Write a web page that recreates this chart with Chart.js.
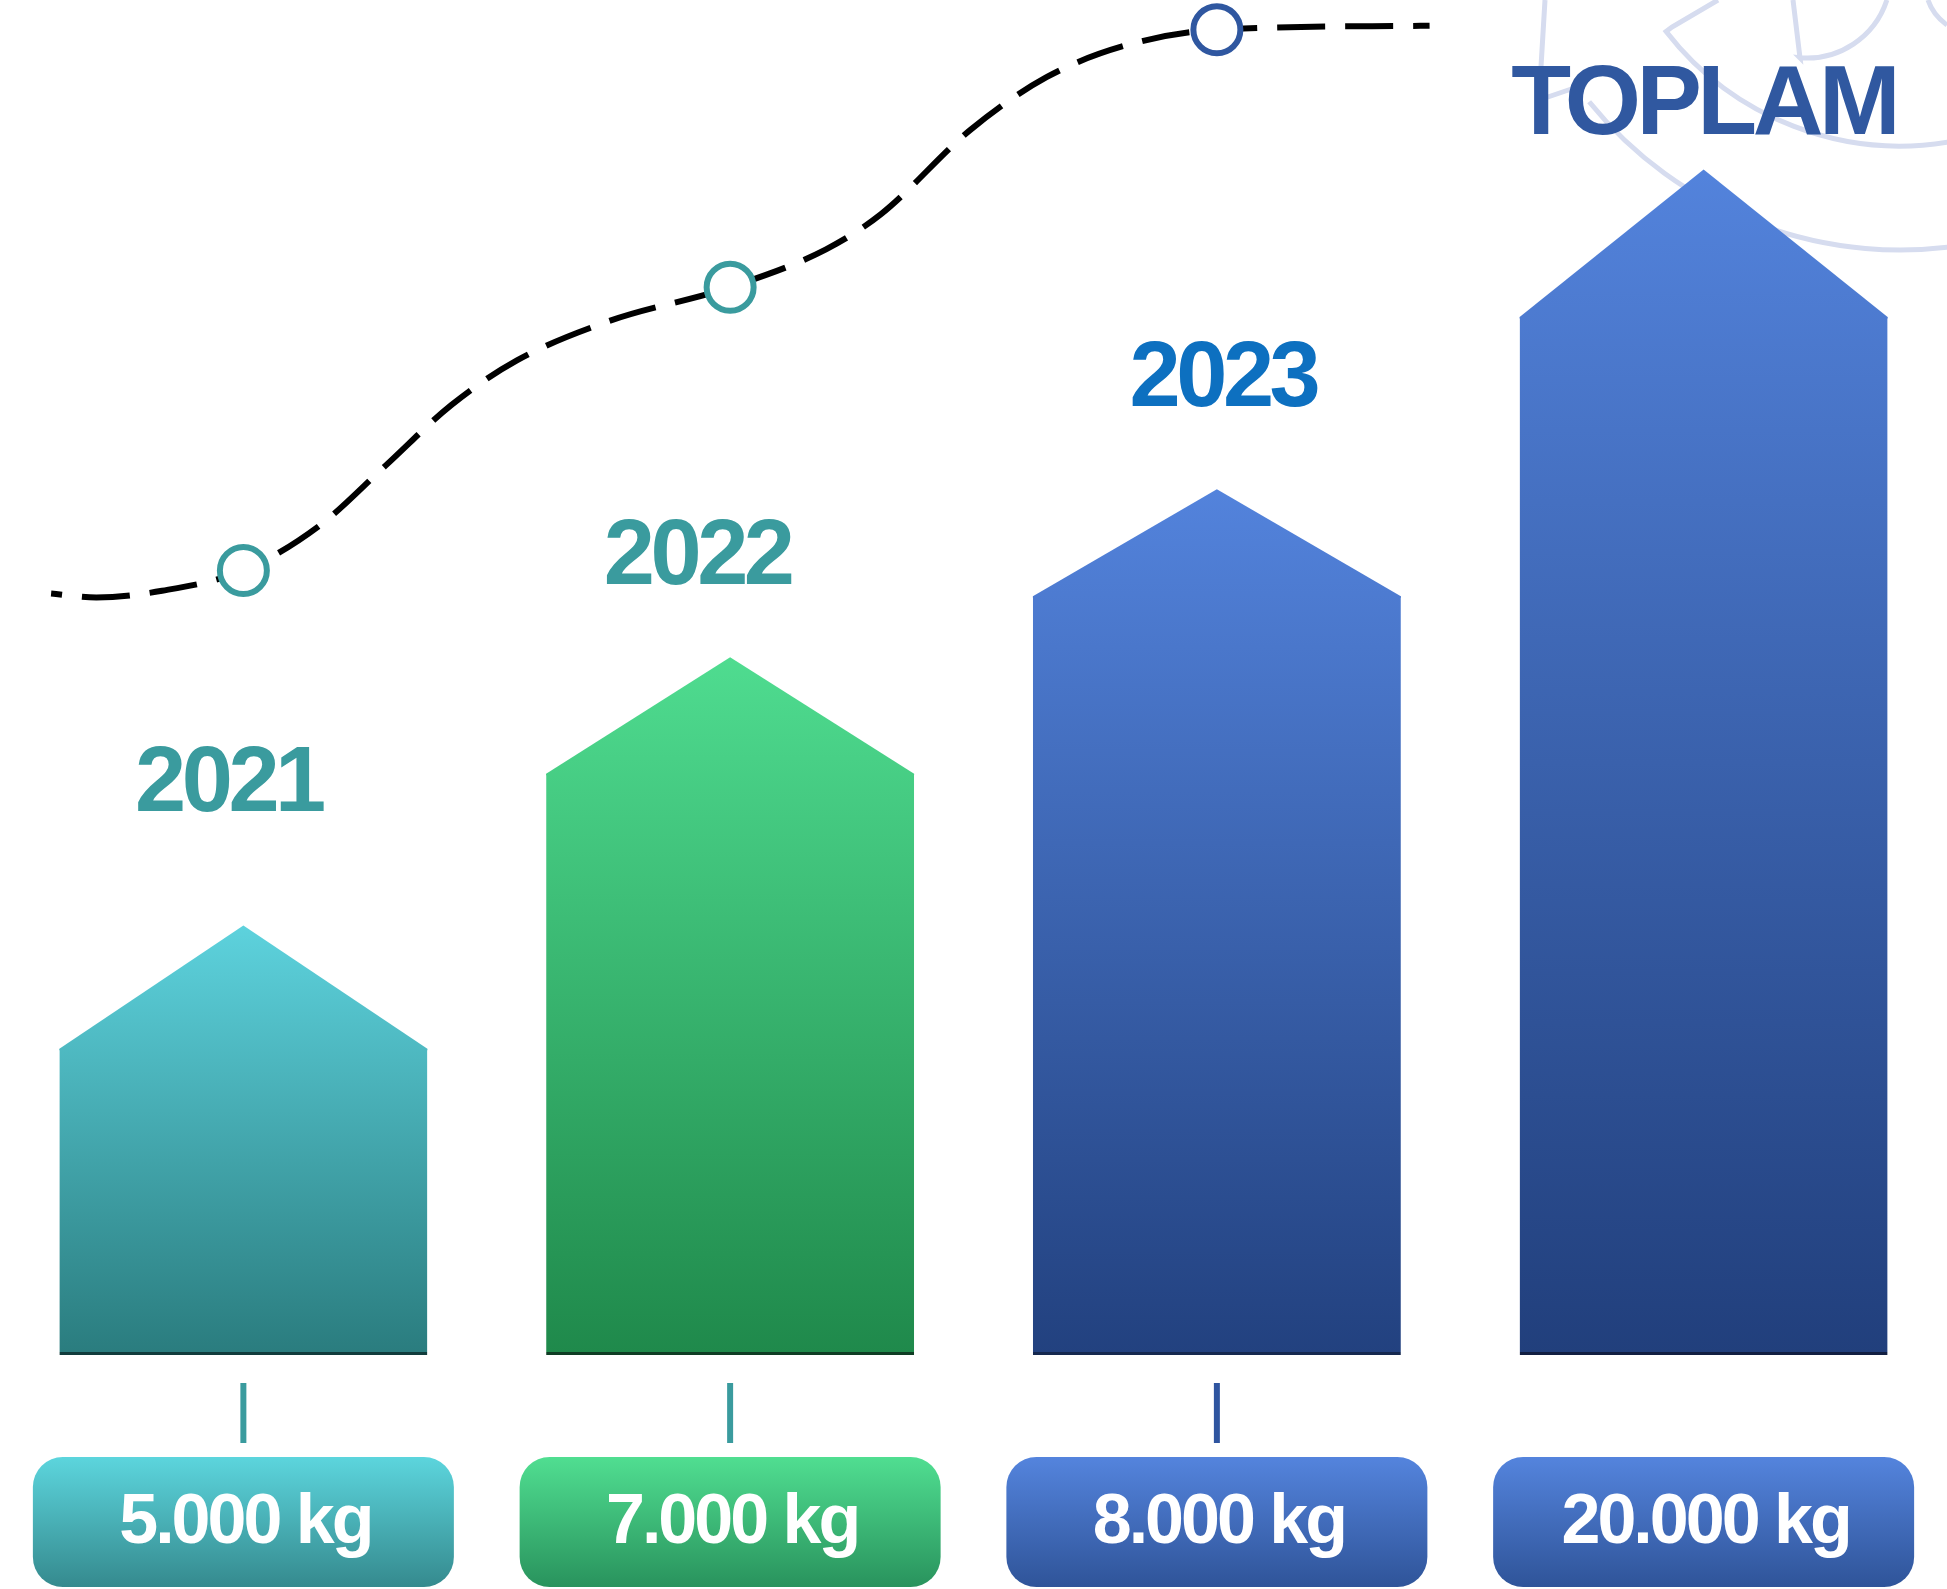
<!DOCTYPE html>
<html>
<head>
<meta charset="utf-8">
<script src="https://cdn.jsdelivr.net/npm/chart.js@4.4.1/dist/chart.umd.min.js"></script>
<style>
  html, body { margin: 0; padding: 0; background: #fff; overflow: hidden; }
  #wrap { width: 1947px; height: 1589px; position: relative; }
</style>
</head>
<body>
<div id="wrap"><canvas id="myChart"></canvas></div>
<script>
// data
const categories = ["2021", "2022", "2023", "TOPLAM"];
const amounts = [5000, 7000, 8000, 20000];
// house shapes: wall top and roof top, on a 0-100 scale
const bodyTops = [22.6, 42.9, 56.0, 76.6];
const roofTops = [31.7, 51.5, 63.9, 87.5];
// dashed trend curve (x in category units)
const trendX = [-0.395, -0.302, -0.167, 0, 0.156, 0.291, 0.427, 0.562, 0.751, 1, 1.197, 1.31, 1.493, 1.65, 1.808, 2, 2.437];
const trendY = [56.2, 55.9, 56.4, 57.9, 61.2, 65.6, 70.1, 73.4, 76.3, 78.8, 81.6, 84.2, 90.4, 94.3, 96.6, 97.8, 98.1];
const markerY = [57.9, 78.8, 97.8];

const topColors = ["#5dd2dd", "#4fdc90", "#5383dc", "#5383dc"];
const bottomColors = ["#2a7c7e", "#1f894b", "#22417f", "#213f7c"];
const edgeColors = ["#113c3c", "#0f3d24", "#15284f", "#121f42"];
const pillTop = ["#5cd5dd", "#50de91", "#5484dd", "#5484dd"];
const pillBottom = ["#358a8e", "#29935d", "#2f5499", "#2f5499"];
const labelColors = ["#3a9b9e", "#3a9b9e", "#0d70c0", "#3058a0"];
const tickColors = ["#3a9b9e", "#3a9b9e", "#2f55a0", null];
const markerColors = ["#3a9b9e", "#3a9b9e", "#2f57a0"];

const FONT = '"Liberation Sans", Arial, sans-serif';

function formatKg(v) {
  return String(v).replace(/\B(?=(\d{3})+(?!\d))/g, ".") + " kg";
}

function houseGradient(chart, i) {
  const y = chart.scales.y;
  const g = chart.ctx.createLinearGradient(0, y.getPixelForValue(roofTops[i]), 0, y.getPixelForValue(0));
  g.addColorStop(0, topColors[i]);
  g.addColorStop(1, bottomColors[i]);
  return g;
}

const decorPlugin = {
  id: "decor",
  beforeDatasetsDraw(chart) {
    const ctx = chart.ctx;
    const d = (a) => a * Math.PI / 180;
    ctx.save();
    ctx.strokeStyle = "#d6dcef";
    ctx.lineWidth = 5;
    ctx.beginPath();
    ctx.moveTo(1545, 0);
    ctx.lineTo(1539, 100);
    ctx.lineTo(1586, 84);
    ctx.stroke();
    ctx.beginPath();
    ctx.arc(1900, -150, 400, d(141), d(80), true);
    ctx.stroke();
    ctx.beginPath();
    ctx.moveTo(1718, 0);
    ctx.lineTo(1672, 27);
    ctx.arc(1900, -150, 296, d(142.2), d(80), true);
    ctx.stroke();
    ctx.beginPath();
    ctx.moveTo(1793, 0);
    ctx.lineTo(1800, 58);
    ctx.arc(1807, -26, 84, d(95), d(18), true);
    ctx.stroke();
    ctx.beginPath();
    ctx.moveTo(1928, 0);
    ctx.quadraticCurveTo(1933, 15, 1947, 25);
    ctx.stroke();
    ctx.restore();
  }
};

const roofPlugin = {
  id: "roofs",
  afterDatasetDraw(chart, args) {
    if (args.index !== 0) return;
    const ctx = chart.ctx;
    const y = chart.scales.y;
    args.meta.data.forEach((bar, i) => {
      const p = bar.getProps(["x", "y", "width"], true);
      const half = p.width / 2;
      const apex = y.getPixelForValue(roofTops[i]);
      ctx.save();
      ctx.beginPath();
      ctx.moveTo(p.x - half, p.y + 1.5);
      ctx.lineTo(p.x - half, p.y);
      ctx.lineTo(p.x, apex);
      ctx.lineTo(p.x + half, p.y);
      ctx.lineTo(p.x + half, p.y + 1.5);
      ctx.closePath();
      ctx.fillStyle = houseGradient(chart, i);
      ctx.fill();
      ctx.restore();
    });
  }
};

const labelPlugin = {
  id: "labels",
  afterDraw(chart, args, opts) {
    const ctx = chart.ctx;
    const y = chart.scales.y;
    const base = y.getPixelForValue(0);
    const meta = chart.getDatasetMeta(0);
    meta.data.forEach((bar, i) => {
      const x = bar.x;
      ctx.save();
      // connector tick
      if (tickColors[i]) {
        ctx.strokeStyle = tickColors[i];
        ctx.lineWidth = 6;
        ctx.beginPath();
        ctx.moveTo(x, base + 28);
        ctx.lineTo(x, base + 88);
        ctx.stroke();
      }
      // value pill
      const pw = opts.pillWidth, ph = opts.pillHeight, top = base + opts.pillGap;
      const g = ctx.createLinearGradient(0, top, 0, top + ph);
      g.addColorStop(0, pillTop[i]);
      g.addColorStop(1, pillBottom[i]);
      ctx.fillStyle = g;
      ctx.beginPath();
      ctx.roundRect(x - pw / 2, top, pw, ph, 30);
      ctx.fill();
      ctx.fillStyle = "#ffffff";
      ctx.font = "bold 70px " + FONT;
      ctx.letterSpacing = "-3px";
      ctx.textAlign = "center";
      ctx.textBaseline = "alphabetic";
      ctx.fillText(formatKg(amounts[i]), x + 2, top + 86);
      // year / total label
      const apex = y.getPixelForValue(roofTops[i]);
      const big = i === 3;
      ctx.font = "bold " + (big ? 98 : 92) + "px " + FONT;
      ctx.letterSpacing = big ? "-4.5px" : "-4.5px";
      ctx.fillStyle = labelColors[i];
      ctx.fillText(categories[i], x + opts.labelDx[i], apex - opts.labelGap[i]);
      ctx.restore();
    });
  }
};

const ctx = document.getElementById("myChart").getContext("2d");

const data = {
  labels: categories,
  datasets: [
    {
      type: "bar",
      data: bodyTops,
      order: 3,
      grouped: false,
      backgroundColor: (c) => {
        if (!c.chart.chartArea) return topColors[c.dataIndex];
        return houseGradient(c.chart, c.dataIndex);
      },
      borderColor: edgeColors,
      borderWidth: { top: 0, left: 0, right: 0, bottom: 3 },
      borderSkipped: false,
      barPercentage: 0.756,
      categoryPercentage: 1,
    },
    {
      type: "line",
      xAxisID: "x2",
      order: 2,
      data: trendX.map((x, i) => ({ x: x, y: trendY[i] })),
      borderColor: "#000000",
      borderWidth: 6,
      borderDash: [48, 20],
      borderDashOffset: 37,
      pointRadius: 0,
      cubicInterpolationMode: "monotone",
      fill: false,
      clip: false,
    },
    {
      type: "line",
      order: 1,
      data: markerY,
      showLine: false,
      pointRadius: 23.5,
      pointBorderWidth: 6,
      pointBackgroundColor: "#ffffff",
      pointBorderColor: markerColors,
      clip: false,
    },
  ],
};

const config = {
  type: "bar",
  data: data,
  options: {
    responsive: true,
    maintainAspectRatio: false,
    animation: false,
    events: [],
    layout: { autoPadding: false, padding: { top: 0, left: 0, right: 0, bottom: 234 } },
    scales: {
      x: { display: false, offset: true },
      x2: { type: "linear", display: false, offset: false, bounds: "data", grid: { offset: false }, min: -0.5, max: 3.5 },
      y: { display: false, min: 0, max: 100 },
    },
    plugins: {
      legend: { display: false },
      tooltip: { enabled: false },
      labels: {
        pillWidth: 421,
        pillHeight: 130,
        pillGap: 102,
        labelGap: [114, 73, 83, 35],
        labelDx: [-15, -33, 6, 0],
      },
    },
  },
  plugins: [decorPlugin, roofPlugin, labelPlugin],
};

const myChart = new Chart(ctx, config);
</script>
</body>
</html>
